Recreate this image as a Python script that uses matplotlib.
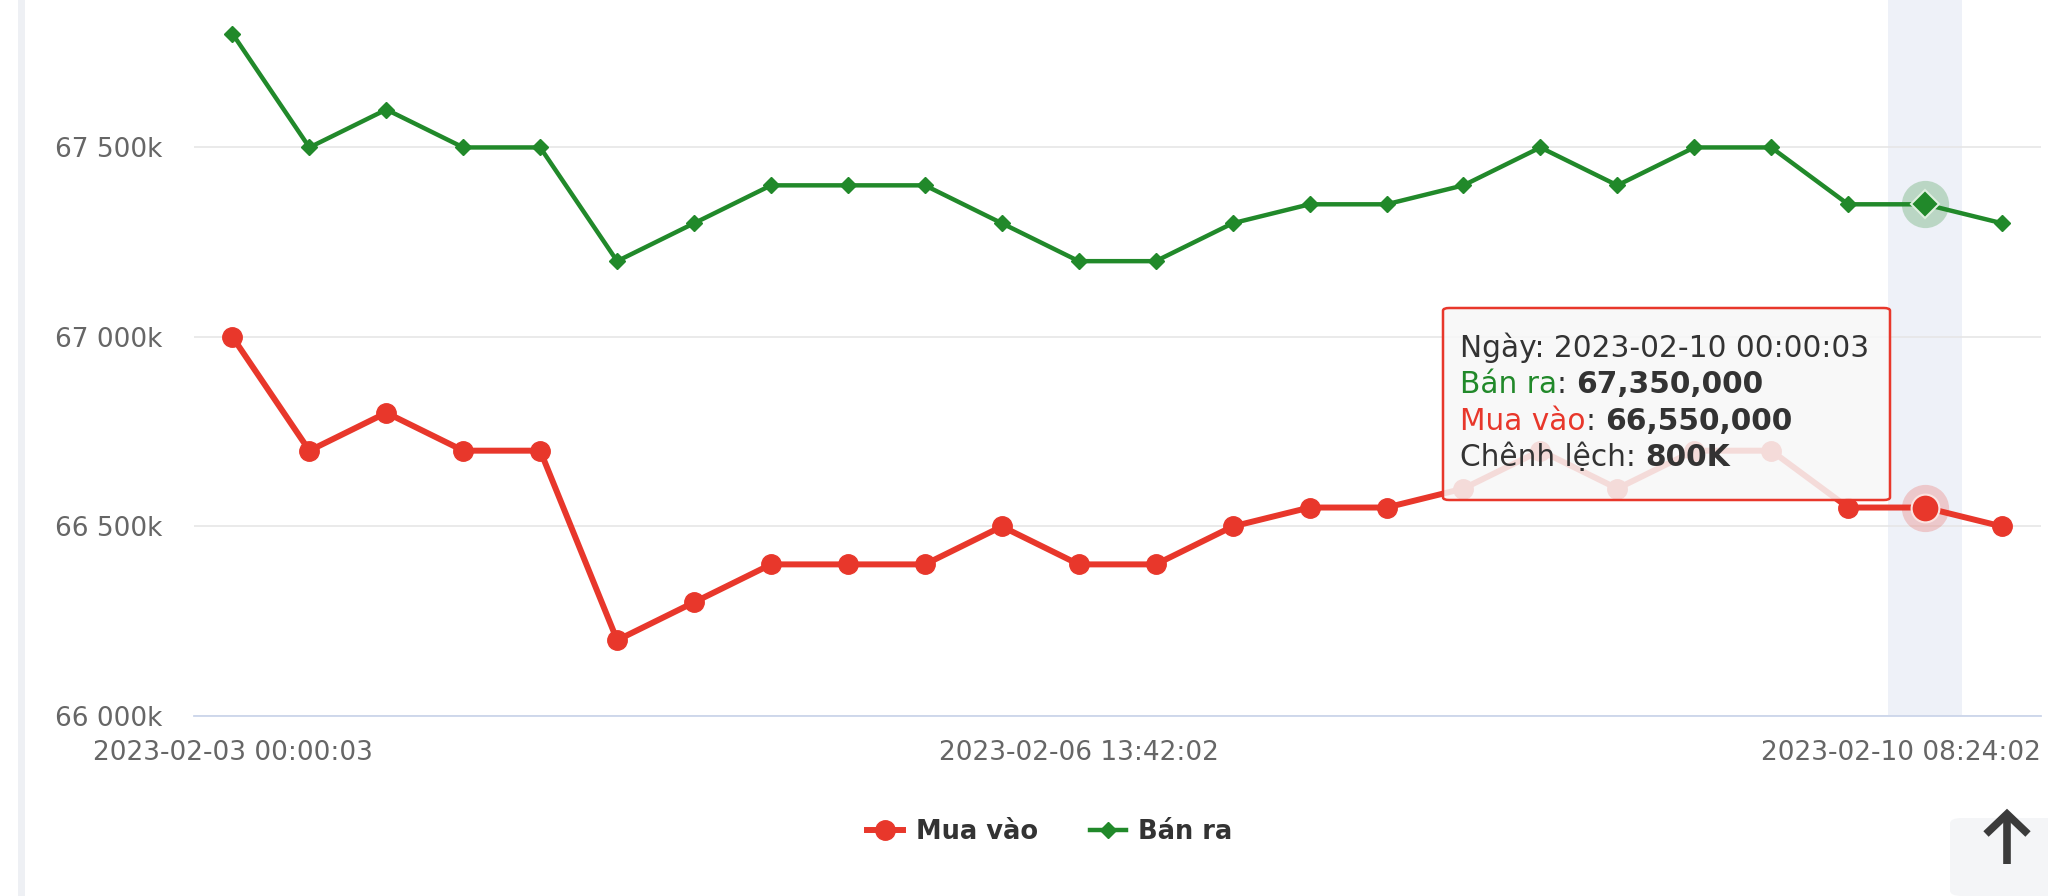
import numpy as np
import matplotlib
matplotlib.use("Agg")
import matplotlib.pyplot as plt
from matplotlib.patches import FancyBboxPatch, Rectangle
from matplotlib.lines import Line2D
from matplotlib.text import Annotation
from matplotlib.ticker import FuncFormatter

# gia mua vao / ban ra (VND)
buy = [67000000, 66700000, 66800000, 66700000, 66700000, 66200000, 66300000, 66400000,
       66400000, 66400000, 66500000, 66400000, 66400000, 66500000, 66550000, 66550000,
       66600000, 66700000, 66600000, 66700000, 66700000, 66550000, 66550000, 66500000]
sell = [67800000, 67500000, 67600000, 67500000, 67500000, 67200000, 67300000, 67400000,
        67400000, 67400000, 67300000, 67200000, 67200000, 67300000, 67350000, 67350000,
        67400000, 67500000, 67400000, 67500000, 67500000, 67350000, 67350000, 67300000]
tick_idx = [0, 11]
tick_labels = ["2023-02-03 00:00:03", "2023-02-06 13:42:02"]
last_label = "2023-02-10 08:24:02"
hover = 22
hover_date = "2023-02-10 00:00:03"

RED = "#e8372b"
GREEN = "#21892a"
W, H = 2048, 896

fig = plt.figure(figsize=(W / 100, H / 100), dpi=100)
ax = fig.add_axes([194 / W, 1 - 716 / H, (2040.5 - 194) / W, 716 / H])

x = np.arange(len(buy))
buy = np.array(buy)
sell = np.array(sell)

ax.axvspan(hover - 0.48, hover + 0.48, color="#eef1f8", zorder=0, lw=0)
l1, = ax.plot(x, buy, color=RED, lw=4.3, marker="o", ms=14, zorder=3, label="Mua vào")
l2, = ax.plot(x, sell, color=GREEN, lw=3.2, marker="D", ms=8, zorder=3, label="Bán ra")

# diem dang hover
ax.plot(x[hover], buy[hover], "o", ms=34, color=RED, alpha=0.22, mec="none", zorder=4)
ax.plot(x[hover], buy[hover], "o", ms=20, color=RED, mec="#fbe3e1", mew=1.5, zorder=5)
ax.plot(x[hover], sell[hover], "o", ms=34, color=GREEN, alpha=0.25, mec="none", zorder=4)
ax.plot(x[hover], sell[hover], "D", ms=14, color=GREEN, mec="#dff0df", mew=1.5, zorder=5)

ax.set_xlim(-0.5, len(buy) - 0.5)
ax.set_ylim(66000000, 67889000)
ax.set_yticks([66000000, 66500000, 67000000, 67500000])
ax.yaxis.set_major_formatter(FuncFormatter(lambda v, p: f"{v / 1000:,.0f}".replace(",", " ") + "k"))
ax.set_xticks(tick_idx)
ax.set_xticklabels(tick_labels)
ax.annotate(last_label, xy=(1, 0), xycoords="axes fraction", xytext=(0, -17),
            textcoords="offset points", ha="right", va="top", fontsize=19, color="#666666")

ax.grid(axis="y", color="#e6e6e6", lw=1.2, zorder=1)
ax.set_axisbelow(True)
for s in ["top", "right", "left"]:
    ax.spines[s].set_visible(False)
ax.spines["bottom"].set_color("#ccd6eb")
ax.spines["bottom"].set_linewidth(1.3)
ax.tick_params(axis="both", length=0, labelsize=19, colors="#666666")
ax.tick_params(axis="y", pad=23)
ax.tick_params(axis="x", pad=17)

# legend
fig.legend(handles=[l1, l2], loc="center", bbox_to_anchor=(1050 / W, 1 - 832 / H), ncol=2,
           frameon=False, prop=dict(weight="bold", size=18.5), handlelength=1.4,
           handletextpad=0.5, columnspacing=2.0, labelcolor="#333333")

# thanh ben trai
fig.patches.append(Rectangle((18 / W, 0), 7 / W, 1, transform=fig.transFigure,
                             color="#eef0f4", lw=0, zorder=1))

# tooltip
tip = FancyBboxPatch((1443 / W, 1 - 500 / H), (1890 - 1443) / W, (500 - 308) / H,
                     boxstyle="round,pad=0,rounding_size=0.003", transform=fig.transFigure,
                     facecolor=(0.97, 0.97, 0.97, 0.86), edgecolor=RED, lw=1.8, zorder=2)
fig.patches.append(tip)

dark = "#333333"
fs = 21.3


def line(ypx, parts):
    prev = fig.text(1460 / W, 1 - ypx / H, parts[0][0], color=parts[0][1], weight=parts[0][2],
                    fontsize=fs, ha="left", va="bottom", zorder=6)
    for s, c, w in parts[1:]:
        a = Annotation(s, xy=(1, 0), xycoords=prev, ha="left", va="bottom", fontsize=fs,
                       color=c, weight=w, annotation_clip=False, zorder=6)
        fig.add_artist(a)
        prev = a


diff = (sell[hover] - buy[hover]) / 1000
line(363, [(f"Ngày: {hover_date}", dark, "normal")])
line(399, [("Bán ra", GREEN, "normal"), (": ", dark, "normal"), (f"{sell[hover]:,}", dark, "bold")])
line(436, [("Mua vào", RED, "normal"), (": ", dark, "normal"), (f"{buy[hover]:,}", dark, "bold")])
line(472, [("Chênh lệch: ", dark, "normal"), (f"{diff:.0f}K", dark, "bold")])

# nut len dau trang
fig.patches.append(FancyBboxPatch((1950 / W, 0), 120 / W, (896 - 818) / H,
                                  boxstyle="round,pad=0,rounding_size=0.006",
                                  transform=fig.transFigure, facecolor="#f4f5f7",
                                  edgecolor="none", zorder=1))
arrow_kw = dict(transform=fig.transFigure, color="#3b3b3b", lw=5.5, solid_capstyle="butt",
                solid_joinstyle="miter", zorder=3)
fig.lines.append(Line2D([2007 / W, 2007 / W], [1 - 864 / H, 1 - 816 / H], **arrow_kw))
fig.lines.append(Line2D([1986 / W, 2007 / W, 2028 / W], [1 - 834 / H, 1 - 814 / H, 1 - 834 / H],
                        **arrow_kw))

fig.savefig("out.png", dpi=100, facecolor="white")
